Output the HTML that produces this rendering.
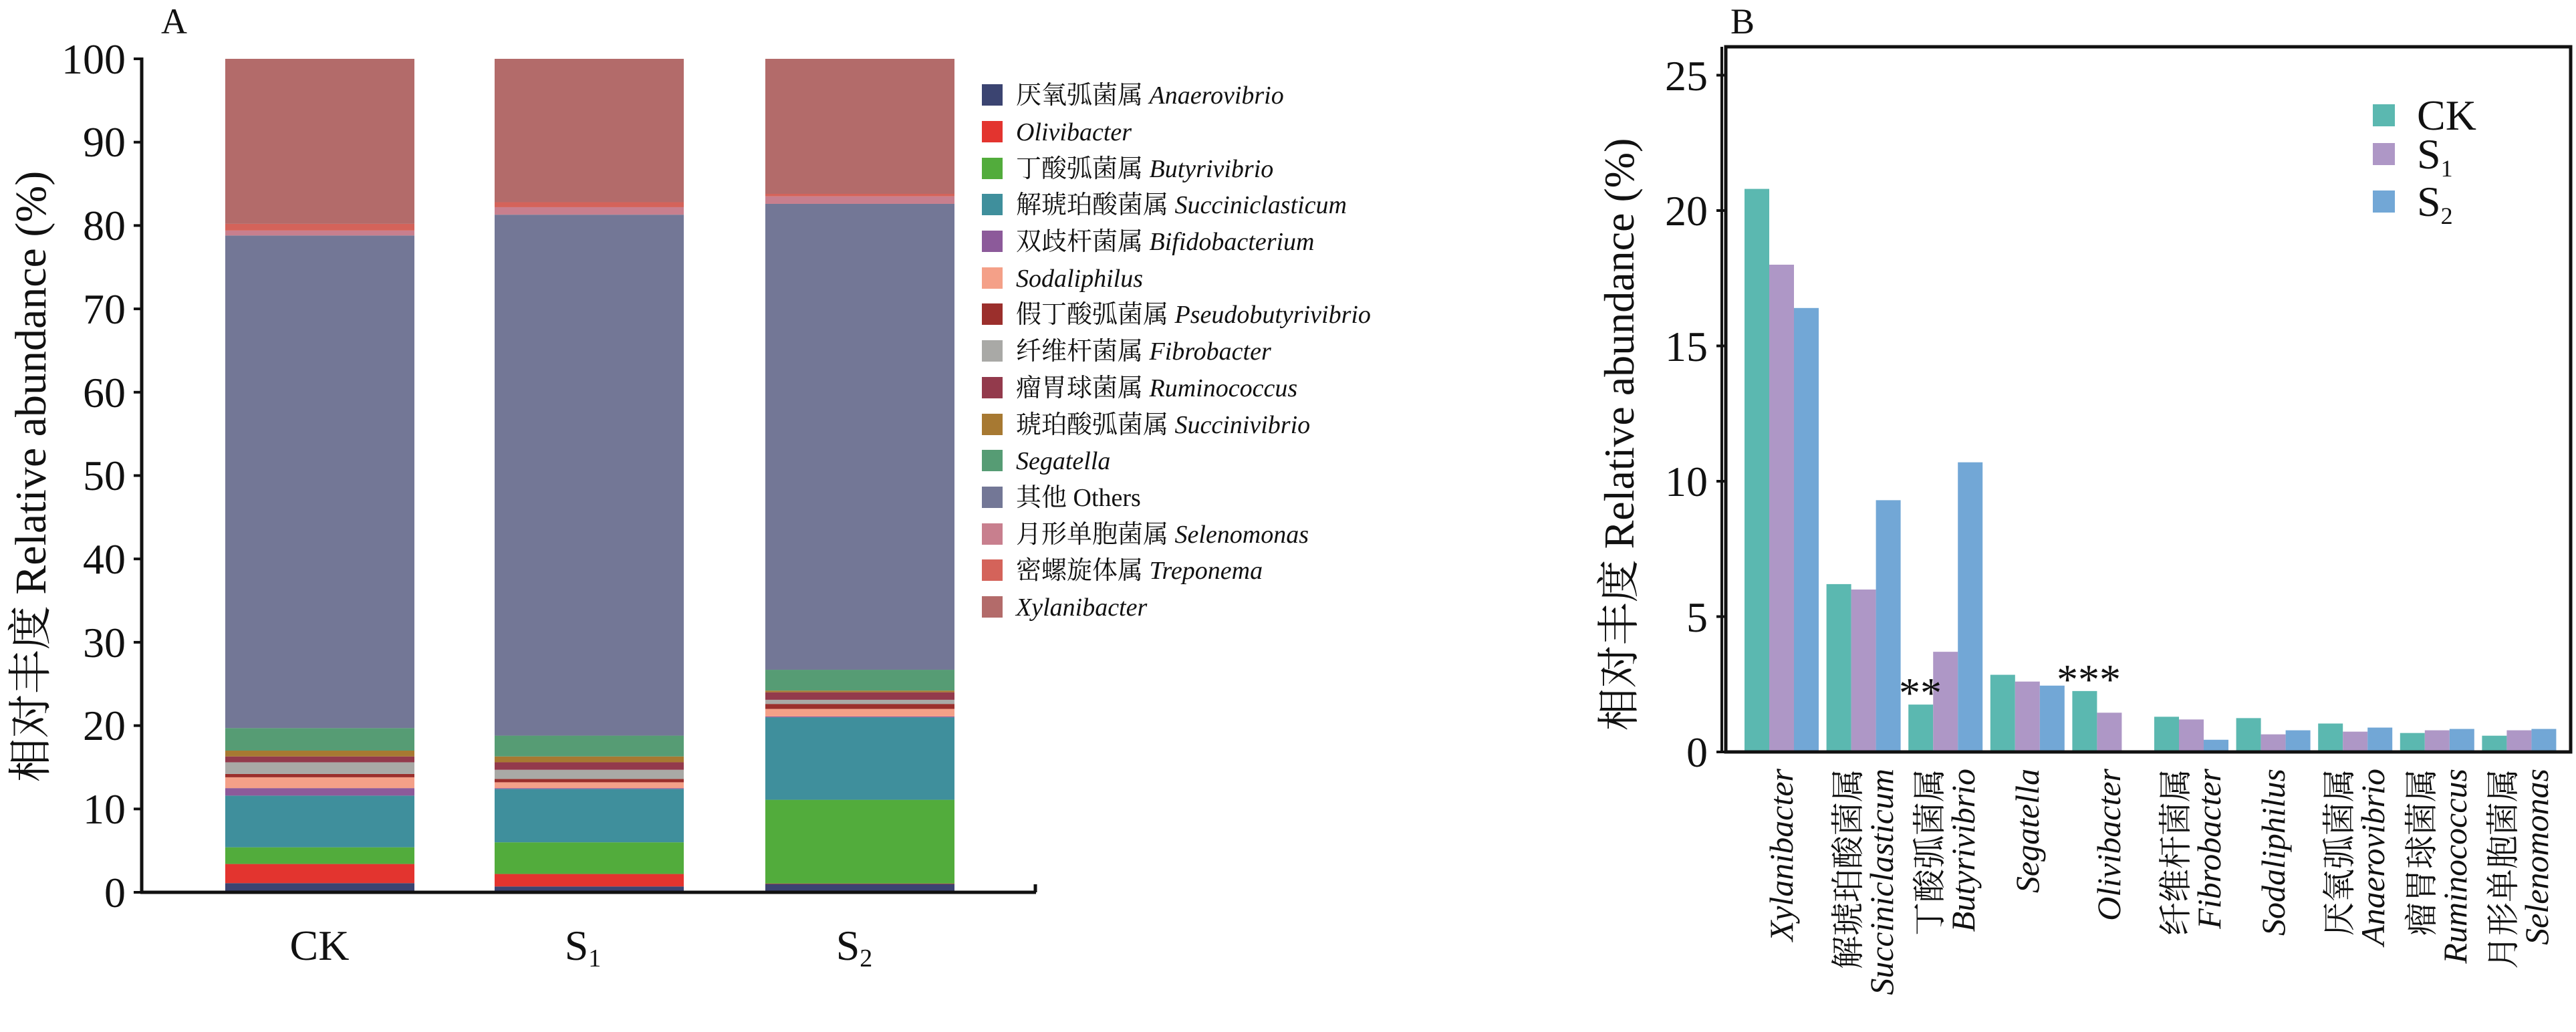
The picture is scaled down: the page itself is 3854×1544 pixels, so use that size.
<!DOCTYPE html>
<html><head><meta charset="utf-8"><style>
html,body{margin:0;padding:0;background:#fff;}
svg{display:block;}
text{font-family:"Liberation Serif","Noto Serif CJK SC",serif;fill:#111;}
</style></head><body>
<svg width="3854" height="1544" viewBox="0 0 3854 1544" xmlns="http://www.w3.org/2000/svg">
<text x="241" y="50" font-size="54">A</text>
<g transform="translate(0,1335) scale(1,-12.47)">
 <g transform="translate(337,0)">
  <rect x="0" width="283" y="0" height="1.1" fill="#3b4471"/>
  <rect x="0" width="283" y="1.1" height="2.3" fill="#e3342f"/>
  <rect x="0" width="283" y="3.4" height="2.0" fill="#52ac3c"/>
  <rect x="0" width="283" y="5.4" height="6.2" fill="#3f8f9c"/>
  <rect x="0" width="283" y="11.6" height="0.9" fill="#8c5a9a"/>
  <rect x="0" width="283" y="12.5" height="1.3" fill="#f4a088"/>
  <rect x="0" width="283" y="13.8" height="0.4" fill="#9b2f2c"/>
  <rect x="0" width="283" y="14.2" height="1.4" fill="#a9a9a6"/>
  <rect x="0" width="283" y="15.6" height="0.7" fill="#933a4c"/>
  <rect x="0" width="283" y="16.3" height="0.7" fill="#a77932"/>
  <rect x="0" width="283" y="17.0" height="2.7" fill="#569c74"/>
  <rect x="0" width="283" y="19.7" height="59.1" fill="#737796"/>
  <rect x="0" width="283" y="78.8" height="0.6" fill="#c87f8e"/>
  <rect x="0" width="283" y="79.4" height="0.8" fill="#d4635a"/>
  <rect x="0" width="283" y="80.2" height="19.8" fill="#b36b6a"/>
 </g>
 <g transform="translate(740,0)">
  <rect x="0" width="283" y="0" height="0.7" fill="#3b4471"/>
  <rect x="0" width="283" y="0.7" height="1.5" fill="#e3342f"/>
  <rect x="0" width="283" y="2.2" height="3.8" fill="#52ac3c"/>
  <rect x="0" width="283" y="6.0" height="6.4" fill="#3f8f9c"/>
  <rect x="0" width="283" y="12.4" height="0.1" fill="#8c5a9a"/>
  <rect x="0" width="283" y="12.5" height="0.7" fill="#f4a088"/>
  <rect x="0" width="283" y="13.2" height="0.4" fill="#9b2f2c"/>
  <rect x="0" width="283" y="13.6" height="1.1" fill="#a9a9a6"/>
  <rect x="0" width="283" y="14.7" height="0.9" fill="#933a4c"/>
  <rect x="0" width="283" y="15.6" height="0.7" fill="#a77932"/>
  <rect x="0" width="283" y="16.3" height="2.5" fill="#569c74"/>
  <rect x="0" width="283" y="18.8" height="62.5" fill="#737796"/>
  <rect x="0" width="283" y="81.3" height="0.9" fill="#c87f8e"/>
  <rect x="0" width="283" y="82.2" height="0.6" fill="#d4635a"/>
  <rect x="0" width="283" y="82.8" height="17.2" fill="#b36b6a"/>
 </g>
 <g transform="translate(1145,0)">
  <rect x="0" width="283" y="0" height="1.0" fill="#3b4471"/>
  <rect x="0" width="283" y="1.0" height="0.05" fill="#e3342f"/>
  <rect x="0" width="283" y="1.05" height="10.05" fill="#52ac3c"/>
  <rect x="0" width="283" y="11.1" height="9.9" fill="#3f8f9c"/>
  <rect x="0" width="283" y="21.0" height="0.1" fill="#8c5a9a"/>
  <rect x="0" width="283" y="21.1" height="0.9" fill="#f4a088"/>
  <rect x="0" width="283" y="22.0" height="0.6" fill="#9b2f2c"/>
  <rect x="0" width="283" y="22.6" height="0.5" fill="#a9a9a6"/>
  <rect x="0" width="283" y="23.1" height="0.9" fill="#933a4c"/>
  <rect x="0" width="283" y="24.0" height="0.2" fill="#a77932"/>
  <rect x="0" width="283" y="24.2" height="2.5" fill="#569c74"/>
  <rect x="0" width="283" y="26.7" height="55.9" fill="#737796"/>
  <rect x="0" width="283" y="82.6" height="0.9" fill="#c87f8e"/>
  <rect x="0" width="283" y="83.5" height="0.3" fill="#d4635a"/>
  <rect x="0" width="283" y="83.8" height="16.2" fill="#b36b6a"/>
 </g>
</g>
<g stroke="#111" stroke-width="5">
 <line x1="212" y1="86" x2="212" y2="1337"/>
 <line x1="210" y1="1335" x2="1550" y2="1335"/>
 <line x1="1549" y1="1335" x2="1549" y2="1323"/>
 <g stroke-width="4">
  <line x1="200" y1="1335" x2="212" y2="1335"/>
  <line x1="200" y1="1210.3" x2="212" y2="1210.3"/>
  <line x1="200" y1="1085.6" x2="212" y2="1085.6"/>
  <line x1="200" y1="960.9" x2="212" y2="960.9"/>
  <line x1="200" y1="836.2" x2="212" y2="836.2"/>
  <line x1="200" y1="711.5" x2="212" y2="711.5"/>
  <line x1="200" y1="586.8" x2="212" y2="586.8"/>
  <line x1="200" y1="462.1" x2="212" y2="462.1"/>
  <line x1="200" y1="337.4" x2="212" y2="337.4"/>
  <line x1="200" y1="212.7" x2="212" y2="212.7"/>
  <line x1="200" y1="88" x2="212" y2="88"/>
 </g>
</g>
<g font-size="64" text-anchor="end">
 <text x="188" y="1357">0</text>
 <text x="188" y="1232">10</text>
 <text x="188" y="1107">20</text>
 <text x="188" y="983">30</text>
 <text x="188" y="858">40</text>
 <text x="188" y="733">50</text>
 <text x="188" y="609">60</text>
 <text x="188" y="484">70</text>
 <text x="188" y="359">80</text>
 <text x="188" y="234">90</text>
 <text x="188" y="110">100</text>
</g>
<text transform="translate(68,713) rotate(-90)" font-size="66" text-anchor="middle">相对丰度 Relative abundance (%)</text>
<g font-size="64" text-anchor="middle">
 <text x="478" y="1436">CK</text>
 <text x="872" y="1436">S<tspan font-size="38" dy="10">1</tspan></text>
 <text x="1278" y="1436">S<tspan font-size="38" dy="10">2</tspan></text>
</g>
<g font-size="38">
 <rect x="1469" y="126" width="31" height="32" fill="#3b4471"/><text x="1520" y="155">厌氧弧菌属 <tspan font-style="italic">Anaerovibrio</tspan></text>
 <rect x="1469" y="181" width="31" height="32" fill="#e3342f"/><text x="1520" y="210" font-style="italic">Olivibacter</text>
 <rect x="1469" y="236" width="31" height="32" fill="#52ac3c"/><text x="1520" y="265">丁酸弧菌属 <tspan font-style="italic">Butyrivibrio</tspan></text>
 <rect x="1469" y="290" width="31" height="32" fill="#3f8f9c"/><text x="1520" y="319">解琥珀酸菌属 <tspan font-style="italic">Succiniclasticum</tspan></text>
 <rect x="1469" y="345" width="31" height="32" fill="#8c5a9a"/><text x="1520" y="374">双歧杆菌属 <tspan font-style="italic">Bifidobacterium</tspan></text>
 <rect x="1469" y="400" width="31" height="32" fill="#f4a088"/><text x="1520" y="429" font-style="italic">Sodaliphilus</text>
 <rect x="1469" y="454" width="31" height="32" fill="#9b2f2c"/><text x="1520" y="483">假丁酸弧菌属 <tspan font-style="italic">Pseudobutyrivibrio</tspan></text>
 <rect x="1469" y="509" width="31" height="32" fill="#a9a9a6"/><text x="1520" y="538">纤维杆菌属 <tspan font-style="italic">Fibrobacter</tspan></text>
 <rect x="1469" y="564" width="31" height="32" fill="#933a4c"/><text x="1520" y="593">瘤胃球菌属 <tspan font-style="italic">Ruminococcus</tspan></text>
 <rect x="1469" y="619" width="31" height="32" fill="#a77932"/><text x="1520" y="648">琥珀酸弧菌属 <tspan font-style="italic">Succinivibrio</tspan></text>
 <rect x="1469" y="673" width="31" height="32" fill="#569c74"/><text x="1520" y="702" font-style="italic">Segatella</text>
 <rect x="1469" y="728" width="31" height="32" fill="#737796"/><text x="1520" y="757">其他 Others</text>
 <rect x="1469" y="783" width="31" height="32" fill="#c87f8e"/><text x="1520" y="812">月形单胞菌属 <tspan font-style="italic">Selenomonas</tspan></text>
 <rect x="1469" y="837" width="31" height="32" fill="#d4635a"/><text x="1520" y="866">密螺旋体属 <tspan font-style="italic">Treponema</tspan></text>
 <rect x="1469" y="892" width="31" height="32" fill="#b36b6a"/><text x="1520" y="921" font-style="italic">Xylanibacter</text>
</g>

<text x="2589" y="50" font-size="54">B</text>
<g transform="translate(0,1125) scale(1,-40.5)">
 <g fill="#5bb8b0">
  <rect x="2610" width="37" y="0" height="20.8"/>
  <rect x="2732.6" width="37" y="0" height="6.2"/>
  <rect x="2855.2" width="37" y="0" height="1.75"/>
  <rect x="2977.8" width="37" y="0" height="2.85"/>
  <rect x="3100.4" width="37" y="0" height="2.25"/>
  <rect x="3223" width="37" y="0" height="1.3"/>
  <rect x="3345.6" width="37" y="0" height="1.25"/>
  <rect x="3468.2" width="37" y="0" height="1.05"/>
  <rect x="3590.8" width="37" y="0" height="0.7"/>
  <rect x="3713.4" width="37" y="0" height="0.6"/>
 </g>
 <g fill="#ae97c6">
  <rect x="2647" width="37" y="0" height="18.0"/>
  <rect x="2769.6" width="37" y="0" height="6.0"/>
  <rect x="2892.2" width="37" y="0" height="3.7"/>
  <rect x="3014.8" width="37" y="0" height="2.6"/>
  <rect x="3137.4" width="37" y="0" height="1.45"/>
  <rect x="3260" width="37" y="0" height="1.2"/>
  <rect x="3382.6" width="37" y="0" height="0.65"/>
  <rect x="3505.2" width="37" y="0" height="0.75"/>
  <rect x="3627.8" width="37" y="0" height="0.8"/>
  <rect x="3750.4" width="37" y="0" height="0.8"/>
 </g>
 <g fill="#72a7d6">
  <rect x="2684" width="37" y="0" height="16.4"/>
  <rect x="2806.6" width="37" y="0" height="9.3"/>
  <rect x="2929.2" width="37" y="0" height="10.7"/>
  <rect x="3051.8" width="37" y="0" height="2.45"/>
  <rect x="3297" width="37" y="0" height="0.45"/>
  <rect x="3419.6" width="37" y="0" height="0.8"/>
  <rect x="3542.2" width="37" y="0" height="0.9"/>
  <rect x="3664.8" width="37" y="0" height="0.85"/>
  <rect x="3787.4" width="37" y="0" height="0.85"/>
 </g>
</g>
<rect x="2582" y="70" width="1264" height="1055" fill="none" stroke="#111" stroke-width="5"/>
<g stroke="#111" stroke-width="4">
 <line x1="2568" y1="1125" x2="2582" y2="1125"/>
 <line x1="2568" y1="922.5" x2="2582" y2="922.5"/>
 <line x1="2568" y1="720" x2="2582" y2="720"/>
 <line x1="2568" y1="517.5" x2="2582" y2="517.5"/>
 <line x1="2568" y1="315" x2="2582" y2="315"/>
 <line x1="2568" y1="112.5" x2="2582" y2="112.5"/>
 <line x1="2576" y1="70" x2="2576" y2="1127"/>
</g>
<g font-size="64" text-anchor="end">
 <text x="2555" y="1147">0</text>
 <text x="2555" y="945">5</text>
 <text x="2555" y="742">10</text>
 <text x="2555" y="540">15</text>
 <text x="2555" y="337">20</text>
 <text x="2555" y="135">25</text>
</g>
<text transform="translate(2444,650) rotate(-90)" font-size="64" text-anchor="middle">相对丰度 Relative abundance (%)</text>
<g font-size="64" text-anchor="middle">
 <text x="2873" y="1058">**</text>
 <text x="3125" y="1038">***</text>
</g>
<g font-size="64">
 <rect x="3550" y="156" width="33" height="33" fill="#5bb8b0"/><text x="3616" y="194">CK</text>
 <rect x="3550" y="214" width="33" height="33" fill="#ae97c6"/><text x="3616" y="252">S<tspan font-size="36" dy="12">1</tspan></text>
 <rect x="3550" y="285" width="33" height="33" fill="#72a7d6"/><text x="3616" y="323">S<tspan font-size="36" dy="12">2</tspan></text>
</g>
<g font-size="50" text-anchor="end">
 <text transform="translate(2682,1150) rotate(-90)" font-style="italic">Xylanibacter</text>
 <text transform="translate(2782,1150) rotate(-90)">解琥珀酸菌属</text>
 <text transform="translate(2832,1150) rotate(-90)" font-style="italic">Succiniclasticum</text>
 <text transform="translate(2904,1150) rotate(-90)">丁酸弧菌属</text>
 <text transform="translate(2954,1150) rotate(-90)" font-style="italic">Butyrivibrio</text>
 <text transform="translate(3050,1150) rotate(-90)" font-style="italic">Segatella</text>
 <text transform="translate(3172,1150) rotate(-90)" font-style="italic">Olivibacter</text>
 <text transform="translate(3272,1150) rotate(-90)">纤维杆菌属</text>
 <text transform="translate(3322,1150) rotate(-90)" font-style="italic">Fibrobacter</text>
 <text transform="translate(3418,1150) rotate(-90)" font-style="italic">Sodaliphilus</text>
 <text transform="translate(3517,1150) rotate(-90)">厌氧弧菌属</text>
 <text transform="translate(3567,1150) rotate(-90)" font-style="italic">Anaerovibrio</text>
 <text transform="translate(3640,1150) rotate(-90)">瘤胃球菌属</text>
 <text transform="translate(3690,1150) rotate(-90)" font-style="italic">Ruminococcus</text>
 <text transform="translate(3762,1150) rotate(-90)">月形单胞菌属</text>
 <text transform="translate(3812,1150) rotate(-90)" font-style="italic">Selenomonas</text>
</g>
</svg>
</body></html>
